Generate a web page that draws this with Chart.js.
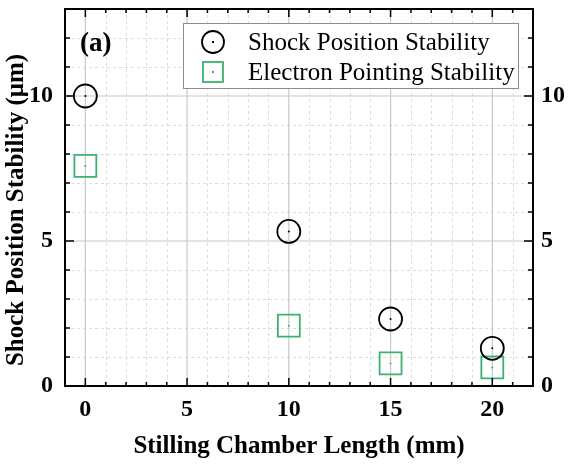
<!DOCTYPE html>
<html>
<head>
<meta charset="utf-8">
<script src="https://cdn.jsdelivr.net/npm/chart.js@4"></script>
<style>
  html, body { margin: 0; padding: 0; background: #fff; }
  #wrap { width: 572px; height: 468px; position: relative; }
</style>
</head>
<body>
<div id="wrap"><canvas id="stab-chart"></canvas></div>
<script>
// data
const chamberLength = [0, 10, 15, 20];          // mm
const shockStability = [10.0, 5.33, 2.31, 1.30]; // um
const electronStability = [7.59, 2.08, 0.78, 0.64];
const xTickLabels = [0, 5, 10, 15, 20];
const yTickLabels = [0, 5, 10];
const seriesNames = ['Shock Position Stability', 'Electron Pointing Stability'];

const SERIF = '"Liberation Serif", "Times New Roman", serif';
const GREEN = 'rgb(60,178,112)';

function pts(ys) {
  return chamberLength.map((x, i) => ({ x, y: ys[i] }));
}

// grid, inward ticks, frame, legend box, titles
const framePlugin = {
  id: 'frame',
  beforeDatasetsDraw(chart) {
    const { ctx, chartArea: a, scales } = chart;
    const sx = scales.x, sy = scales.y;
    ctx.save();
    ctx.lineWidth = 1;
    // minor dashed grid
    ctx.strokeStyle = '#dcdcdc';
    ctx.setLineDash([3, 3]);
    for (let v = 0; v <= 21; v++) {
      if (v % 5 === 0) continue;
      const px = Math.round(sx.getPixelForValue(v)) + 0.5;
      ctx.beginPath(); ctx.moveTo(px, a.top); ctx.lineTo(px, a.bottom); ctx.stroke();
    }
    for (let v = 1; v <= 12; v++) {
      if (v % 5 === 0) continue;
      const py = Math.round(sy.getPixelForValue(v)) + 0.5;
      ctx.beginPath(); ctx.moveTo(a.left, py); ctx.lineTo(a.right, py); ctx.stroke();
    }
    // major solid grid
    ctx.setLineDash([]);
    ctx.strokeStyle = '#c8c8c8';
    ctx.lineWidth = 1.2;
    xTickLabels.forEach((v) => {
      const px = sx.getPixelForValue(v);
      ctx.beginPath(); ctx.moveTo(px, a.top); ctx.lineTo(px, a.bottom); ctx.stroke();
    });
    yTickLabels.forEach((v) => {
      const py = sy.getPixelForValue(v);
      ctx.beginPath(); ctx.moveTo(a.left, py); ctx.lineTo(a.right, py); ctx.stroke();
    });
    ctx.restore();
  },
  afterDatasetsDraw(chart) {
    const { ctx, chartArea: a, scales } = chart;
    const sx = scales.x, sy = scales.y;
    ctx.save();
    // inward ticks
    ctx.strokeStyle = '#000';
    ctx.lineWidth = 1.5;
    for (let v = 0; v <= 21; v++) {
      const len = v % 5 === 0 ? 8 : 4;
      const px = sx.getPixelForValue(v);
      ctx.beginPath();
      ctx.moveTo(px, a.bottom); ctx.lineTo(px, a.bottom - len);
      ctx.moveTo(px, a.top); ctx.lineTo(px, a.top + len);
      ctx.stroke();
    }
    for (let v = 1; v <= 12; v++) {
      const len = v % 5 === 0 ? 9 : 5;
      const py = sy.getPixelForValue(v);
      ctx.beginPath();
      ctx.moveTo(a.left, py); ctx.lineTo(a.left + len, py);
      ctx.moveTo(a.right, py); ctx.lineTo(a.right - len, py);
      ctx.stroke();
    }
    // frame
    ctx.lineWidth = 2;
    ctx.strokeRect(a.left, a.top, a.right - a.left, a.bottom - a.top);

    // legend box
    const lx = 183, ly = 23, lw = 335, lh = 65;
    ctx.fillStyle = '#fff';
    ctx.fillRect(lx, ly, lw, lh);
    ctx.strokeStyle = '#8c8c8c';
    ctx.lineWidth = 1;
    ctx.strokeRect(lx + 0.5, ly + 0.5, lw, lh);
    const mx = 213;
    const rows = [42, 72];
    ctx.lineWidth = 1.8;
    ctx.strokeStyle = '#000';
    ctx.beginPath(); ctx.arc(mx, rows[0], 11, 0, Math.PI * 2); ctx.stroke();
    ctx.fillStyle = '#000';
    ctx.fillRect(mx - 1, rows[0] - 1, 2, 2);
    ctx.strokeStyle = GREEN;
    ctx.strokeRect(mx - 10, rows[1] - 10, 20, 20);
    ctx.fillStyle = GREEN;
    ctx.fillRect(mx - 1, rows[1] - 1, 2, 2);
    ctx.fillStyle = '#000';
    ctx.font = '25px ' + SERIF;
    ctx.textAlign = 'left';
    ctx.textBaseline = 'middle';
    ctx.fillText(seriesNames[0], 248, rows[0] + 1);
    ctx.fillText(seriesNames[1], 248, rows[1] + 1);

    // panel label
    ctx.font = 'bold 27px ' + SERIF;
    ctx.fillText('(a)', 80, 44);

    // axis titles
    ctx.font = 'bold 25px ' + SERIF;
    ctx.textAlign = 'center';
    ctx.fillText('Stilling Chamber Length (mm)', (a.left + a.right) / 2, 447);
    ctx.translate(17, 210);
    ctx.rotate(-Math.PI / 2);
    ctx.fillText('Shock Position Stability (\u03bcm)', 0, 0);
    ctx.restore();
  },
};

const xTickFont = { family: SERIF, size: 24, weight: 'bold' };
const yTickFont = { family: SERIF, size: 24, weight: 'bold' };

function noPadY(s, w) {
  s.width = w;
  s.paddingTop = 0;
  s.paddingBottom = 0;
}

new Chart(document.getElementById('stab-chart'), {
  type: 'scatter',
  data: {
    datasets: [
      {
        label: seriesNames[0],
        data: pts(shockStability),
        pointStyle: 'circle',
        pointRadius: 11.5,
        borderColor: '#000',
        backgroundColor: 'rgba(0,0,0,0)',
        borderWidth: 1.8,
      },
      {
        label: seriesNames[1],
        data: pts(electronStability),
        pointStyle: 'rect',
        pointRadius: 15.5,
        borderColor: GREEN,
        backgroundColor: 'rgba(0,0,0,0)',
        borderWidth: 1.8,
      },
      {
        label: 'shock-dot',
        data: pts(shockStability),
        pointRadius: 1,
        borderWidth: 0,
        backgroundColor: '#000',
      },
      {
        label: 'electron-dot',
        data: pts(electronStability),
        pointRadius: 1,
        borderWidth: 0,
        backgroundColor: GREEN,
      },
    ],
  },
  options: {
    responsive: true,
    maintainAspectRatio: false,
    animation: false,
    devicePixelRatio: 1,
    layout: { autoPadding: false, padding: { top: 9, left: 0, right: 0, bottom: 0 } },
    plugins: {
      legend: { display: false },
      tooltip: { enabled: false },
    },
    scales: {
      x: {
        type: 'linear',
        min: -1,
        max: 22,
        afterFit: (s) => { s.height = 82; s.paddingLeft = 0; s.paddingRight = 0; },
        grid: { display: false, drawTicks: false },
        border: { display: false },
        ticks: {
          stepSize: 1,
          autoSkip: false,
          maxRotation: 0,
          padding: 9,
          color: '#000',
          font: xTickFont,
          callback: (v) => (xTickLabels.includes(v) ? String(v) : ''),
        },
      },
      y: {
        type: 'linear',
        position: 'left',
        min: 0,
        max: 13,
        afterFit: (s) => noPadY(s, 65),
        grid: { display: false, drawTicks: false },
        border: { display: false },
        ticks: {
          stepSize: 1,
          autoSkip: false,
          padding: 12,
          color: '#000',
          font: yTickFont,
          callback: (v) => (yTickLabels.includes(v) ? String(v) : ''),
        },
      },
      y2: {
        type: 'linear',
        position: 'right',
        display: true,
        min: 0,
        max: 13,
        afterFit: (s) => noPadY(s, 39),
        grid: { display: false, drawTicks: false },
        border: { display: false },
        ticks: {
          stepSize: 1,
          autoSkip: false,
          padding: 8,
          color: '#000',
          font: yTickFont,
          callback: (v) => (yTickLabels.includes(v) ? String(v) : ''),
        },
      },
    },
  },
  plugins: [framePlugin],
});
</script>
</body>
</html>
